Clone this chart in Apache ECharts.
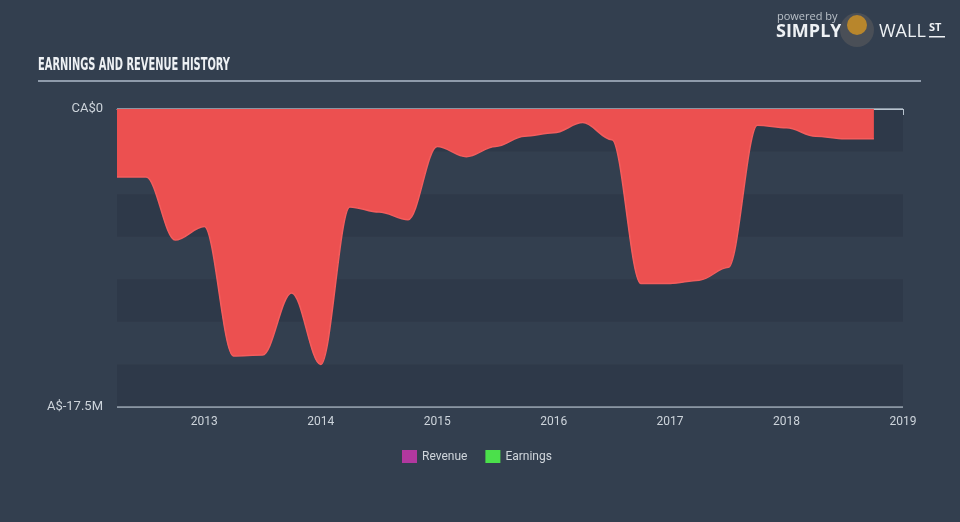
<!DOCTYPE html>
<html>
<head>
<meta charset="utf-8">
<script src="https://cdn.jsdelivr.net/npm/echarts@6/dist/echarts.min.js"></script>
<style>
html,body{margin:0;padding:0;background:#333f4f;}
#chart{width:960px;height:522px;}
</style>
</head>
<body>
<div id="chart"></div>
<script>
// Quarterly periods (decimal years) and earnings in CA$ millions
var periods = [2012.25, 2012.5, 2012.75, 2013.0, 2013.25, 2013.5, 2013.75, 2014.0, 2014.25, 2014.5, 2014.75,
  2015.0, 2015.25, 2015.5, 2015.75, 2016.0, 2016.25, 2016.5, 2016.75, 2017.0, 2017.25, 2017.5, 2017.75,
  2018.0, 2018.25, 2018.5, 2018.75];
var earnings = [-4.0, -4.0, -7.7, -6.9, -14.5, -14.45, -10.8, -15.0, -5.75, -6.05, -6.5,
  -2.2, -2.8, -2.2, -1.6, -1.4, -0.8, -1.8, -10.25, -10.25, -10.05, -9.3, -0.95,
  -1.1, -1.6, -1.75, -1.75];
var yearTicks = [2013, 2014, 2015, 2016, 2017, 2018, 2019];
var legendNames = ['Revenue', 'Earnings'];

var chart = echarts.init(document.getElementById('chart'), null, {renderer: 'canvas'});
var font = 'Roboto, "Open Sans", sans-serif';

var option = {
  backgroundColor: '#333f4f',
  animation: false,
  grid: {left: 117, right: 57, top: 109, bottom: 115},
  legend: {
    data: legendNames,
    bottom: 54,
    left: 397,
    itemWidth: 15,
    itemHeight: 13,
    itemGap: 18,
    icon: 'rect',
    textStyle: {color: '#d0d6dc', fontSize: 12, fontFamily: font},
    selectedMode: false
  },
  xAxis: {
    type: 'value',
    min: 2012.25,
    max: 2019,
    axisLine: {show: true, lineStyle: {color: '#b8c3ce', width: 1}},
    axisTick: {show: true, length: 6, lineStyle: {color: '#b8c3ce'}, customValues: yearTicks},
    axisLabel: {color: '#cdd4db', fontSize: 12, fontFamily: font, margin: 9, customValues: yearTicks,
      formatter: function (v) { return String(Math.round(v)); }},
    splitLine: {show: false}
  },
  yAxis: [{
    type: 'value',
    min: -17.5,
    max: 0,
    interval: 17.5,
    axisLine: {show: false},
    axisTick: {show: false},
    axisLabel: {color: '#cdd4db', fontSize: 13, fontFamily: font, margin: 14,
      formatter: function (v) { return v === 0 ? 'CA$0' : 'CA$' + v + 'M'; }},
    splitLine: {show: true, lineStyle: {color: '#a9b4bf', width: 1.5}}
  }, {
    type: 'value',
    min: -17.5,
    max: 0,
    interval: 2.5,
    show: true,
    axisLine: {show: false},
    axisTick: {show: false},
    axisLabel: {show: false},
    splitLine: {show: false},
    splitArea: {show: true, areaStyle: {color: ['rgba(25,34,45,0.16)', 'rgba(0,0,0,0)']}}
  }],
  series: [{
    name: 'Earnings',
    type: 'line',
    data: periods.map(function (p, i) { return [p, earnings[i]]; }),
    smooth: 0.35,
    smoothMonotone: 'x',
    symbol: 'none',
    lineStyle: {color: '#f35d5d', width: 1.5},
    areaStyle: {color: '#ec5050', opacity: 1},
    itemStyle: {color: '#4be04b'},
    z: 3
  }, {
    name: 'Revenue',
    type: 'line',
    data: [],
    itemStyle: {color: '#b2389f'}
  }],
  graphic: [
    {type: 'rect', left: 0, top: 396, shape: {width: 47, height: 24}, style: {fill: '#333f4f'}, z: 100, zlevel: 1},
    {type: 'text', left: 38, top: 56, style: {text: 'EARNINGS AND REVENUE HISTORY', fill: '#eef1f4',
      font: 'bold 18px "DejaVu Sans Condensed", "Liberation Sans Narrow", sans-serif'}, scaleX: 0.61, z: 10},
    {type: 'rect', left: 38, top: 80, shape: {width: 883, height: 2}, style: {fill: '#8f9bab'}, z: 10},
    {type: 'text', left: 777, top: 11, style: {text: 'powered by', fill: '#b9c0c8', font: '11px "Open Sans", sans-serif'}, z: 10},
    {type: 'text', left: 776, top: 23, style: {text: 'SIMPLY', fill: '#eef1f4', font: 'bold 18px "Open Sans", sans-serif'}, z: 10},
    {type: 'circle', shape: {cx: 857, cy: 30, r: 17}, style: {fill: '#4a4f57'}, z: 10},
    {type: 'circle', shape: {cx: 857, cy: 25, r: 10}, style: {fill: '#b8862c'}, z: 11},
    {type: 'text', left: 879, top: 23, style: {text: 'WALL', fill: '#eef1f4', font: '18px "Open Sans", sans-serif'}, z: 10},
    {type: 'text', left: 929, top: 22, style: {text: 'ST', fill: '#eef1f4', font: 'bold 11px "Open Sans", sans-serif'}, z: 10},
    {type: 'rect', left: 929, top: 36, shape: {width: 16, height: 1.5}, style: {fill: '#eef1f4'}, z: 10}
  ]
};
chart.setOption(option);
</script>
</body>
</html>
